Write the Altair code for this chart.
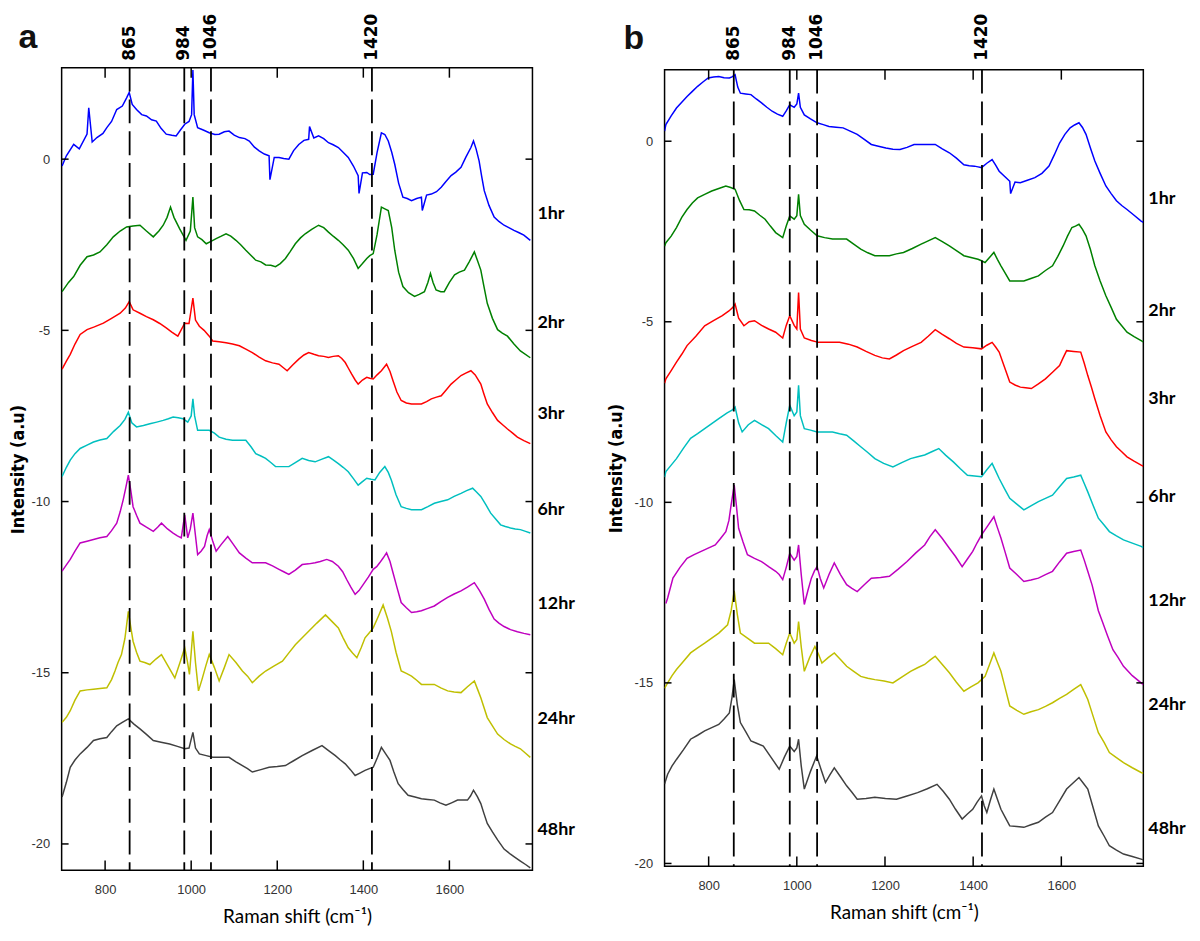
import altair as alt
import pandas as pd

SERIES = ["1hr", "2hr", "3hr", "6hr", "12hr", "24hr", "48hr"]
COLORS = ["#0000FF", "#008000", "#FF0000", "#00BFBF", "#BF00BF", "#BFBF00", "#404040"]

PEAK_POS = [857, 984, 1046, 1420]
PEAK_LABELS = ["865", "984", "1046", "1420"]

X_TICKS = [800, 1000, 1200, 1400, 1600]
Y_TICKS = [0, -5, -10, -15, -20]

A_DOMAIN_X = [699, 1793]
A_DOMAIN_Y = [-20.77, 2.67]
B_DOMAIN_X = [700, 1786]
B_DOMAIN_Y = [-20.08, 1.98]

A_LABEL_Y = [-1.60, -4.79, -7.44, -10.24, -13.0, -16.35, -19.6]
B_LABEL_Y = [-1.61, -4.69, -7.13, -9.84, -12.74, -15.60, -19.05]

# ---------------- panel a ----------------
A_1HR = [(700,-0.2),(710,0.1),(727,0.43),(740,0.3),(758,0.73),(762,1.5),(770,0.5),(781,0.63),(795,0.75),(804,0.92),(815,1.1),(827,1.45),(840,1.55),(850,1.79),(856,1.95),(863,1.6),(873,1.45),(885,1.3),(896,1.26),(908,1.15),(919,1.11),(930,0.9),(942,0.73),(955,0.7),(965,0.68),(975,0.85),(985,1.02),(995,1.1),(1001,1.3),(1004,2.6),(1007,1.3),(1015,0.92),(1028,0.85),(1042,0.77),(1055,0.72),(1065,0.73),(1077,0.8),(1088,0.82),(1100,0.7),(1112,0.63),(1125,0.6),(1135,0.53),(1147,0.35),(1158,0.24),(1170,0.15),(1181,0.1),(1183,-0.6),(1193,0.05),(1204,0.05),(1215,0.02),(1227,0.0),(1238,0.25),(1250,0.43),(1262,0.55),(1273,0.58),(1275,0.95),(1285,0.62),(1296,0.68),(1308,0.6),(1319,0.48),(1330,0.42),(1342,0.34),(1353,0.2),(1365,0.05),(1377,-0.2),(1388,-0.48),(1390,-1.0),(1398,-0.4),(1408,-0.39),(1415,-0.45),(1423,-0.44),(1432,0.2),(1442,0.77),(1450,0.72),(1458,0.53),(1466,0.2),(1473,-0.15),(1482,-0.7),(1492,-1.11),(1502,-1.15),(1512,-1.21),(1524,-1.15),(1535,-1.11),(1537,-1.5),(1547,-1.05),(1558,-1.02),(1570,-0.95),(1581,-0.82),(1592,-0.65),(1604,-0.48),(1615,-0.38),(1627,-0.24),(1638,0.05),(1650,0.34),(1656,0.53),(1662,0.3),(1669,-0.05),(1675,-0.5),(1681,-0.92),(1692,-1.35),(1704,-1.69),(1715,-1.82),(1727,-1.93),(1738,-2.0),(1750,-2.08),(1762,-2.15),(1773,-2.22),(1788,-2.37)]

A_2HR = [(700,-3.87),(715,-3.6),(727,-3.43),(742,-3.1),(758,-2.85),(773,-2.8),(788,-2.71),(804,-2.5),(819,-2.27),(835,-2.1),(850,-1.98),(865,-1.95),(881,-1.93),(896,-2.1),(912,-2.27),(925,-2.1),(935,-1.93),(944,-1.7),(952,-1.40),(960,-1.7),(973,-2.03),(988,-2.37),(998,-2.1),(1004,-1.11),(1008,-2.0),(1015,-2.27),(1025,-2.35),(1035,-2.47),(1046,-2.4),(1058,-2.32),(1070,-2.25),(1081,-2.18),(1092,-2.25),(1104,-2.37),(1115,-2.5),(1127,-2.66),(1138,-2.8),(1150,-2.95),(1162,-3.0),(1173,-3.09),(1185,-3.1),(1196,-3.14),(1207,-3.05),(1219,-2.90),(1230,-2.7),(1242,-2.47),(1254,-2.3),(1265,-2.18),(1280,-2.05),(1296,-1.93),(1308,-2.0),(1319,-2.13),(1330,-2.25),(1342,-2.37),(1353,-2.5),(1365,-2.66),(1377,-2.9),(1388,-3.19),(1398,-3.05),(1408,-2.90),(1415,-2.82),(1423,-2.76),(1432,-2.2),(1442,-1.40),(1450,-1.45),(1458,-1.50),(1466,-2.0),(1473,-2.66),(1482,-3.3),(1492,-3.72),(1505,-3.9),(1519,-4.01),(1530,-3.95),(1542,-3.87),(1550,-3.6),(1556,-3.34),(1562,-3.6),(1569,-3.82),(1580,-3.87),(1588,-3.87),(1600,-3.6),(1612,-3.38),(1623,-3.3),(1635,-3.24),(1646,-3.0),(1658,-2.71),(1665,-2.95),(1673,-3.24),(1680,-3.7),(1688,-4.21),(1700,-4.65),(1712,-4.98),(1723,-5.08),(1735,-5.17),(1750,-5.4),(1765,-5.6),(1788,-5.8)]

A_3HR = [(700,-6.13),(710,-5.9),(719,-5.70),(730,-5.4),(742,-5.12),(758,-4.98),(775,-4.9),(796,-4.79),(815,-4.65),(835,-4.5),(847,-4.35),(856,-4.16),(865,-4.4),(881,-4.5),(896,-4.6),(912,-4.69),(927,-4.8),(942,-4.93),(955,-5.05),(969,-5.17),(985,-4.79),(995,-4.8),(1004,-4.06),(1010,-4.7),(1019,-4.88),(1030,-5.0),(1042,-5.17),(1050,-5.31),(1065,-5.33),(1081,-5.36),(1096,-5.4),(1112,-5.45),(1127,-5.55),(1142,-5.65),(1158,-5.78),(1173,-5.89),(1189,-5.95),(1204,-5.99),(1215,-6.1),(1223,-6.18),(1237,-6.0),(1250,-5.84),(1262,-5.72),(1273,-5.65),(1285,-5.7),(1296,-5.74),(1308,-5.76),(1319,-5.79),(1330,-5.76),(1342,-5.74),(1350,-5.82),(1358,-5.94),(1365,-6.1),(1373,-6.28),(1381,-6.45),(1388,-6.57),(1398,-6.45),(1408,-6.37),(1415,-6.4),(1423,-6.42),(1432,-6.3),(1442,-6.18),(1454,-5.99),(1462,-6.2),(1469,-6.47),(1478,-6.8),(1488,-7.05),(1500,-7.12),(1512,-7.15),(1524,-7.15),(1535,-7.15),(1547,-7.08),(1558,-7.0),(1570,-6.95),(1581,-6.91),(1592,-6.75),(1604,-6.57),(1615,-6.45),(1627,-6.32),(1638,-6.25),(1650,-6.18),(1660,-6.3),(1673,-6.57),(1680,-6.85),(1688,-7.15),(1700,-7.4),(1712,-7.63),(1723,-7.75),(1735,-7.88),(1747,-8.0),(1758,-8.12),(1773,-8.22),(1788,-8.31)]

A_6HR = [(700,-9.27),(710,-9.0),(719,-8.79),(730,-8.6),(742,-8.45),(758,-8.35),(773,-8.26),(788,-8.2),(804,-8.16),(820,-7.95),(835,-7.78),(846,-7.6),(854,-7.39),(862,-7.7),(873,-7.82),(889,-7.78),(904,-7.73),(920,-7.68),(935,-7.63),(947,-7.58),(958,-7.53),(970,-7.55),(981,-7.58),(992,-7.68),(1000,-7.5),(1004,-7.0),(1008,-7.5),(1015,-7.92),(1028,-7.92),(1042,-7.92),(1054,-8.0),(1065,-8.12),(1081,-8.18),(1096,-8.21),(1112,-8.21),(1127,-8.21),(1139,-8.4),(1150,-8.60),(1162,-8.67),(1173,-8.74),(1185,-8.86),(1196,-8.98),(1212,-8.98),(1227,-8.98),(1242,-8.86),(1258,-8.74),(1273,-8.8),(1288,-8.84),(1304,-8.76),(1319,-8.69),(1330,-8.78),(1342,-8.89),(1353,-9.0),(1365,-9.13),(1377,-9.33),(1388,-9.52),(1398,-9.42),(1408,-9.32),(1418,-9.35),(1427,-9.37),(1438,-9.15),(1450,-8.98),(1458,-9.15),(1465,-9.37),(1476,-9.8),(1488,-10.15),(1500,-10.2),(1512,-10.24),(1524,-10.24),(1535,-10.24),(1550,-10.15),(1565,-10.05),(1580,-10.0),(1596,-9.95),(1611,-9.85),(1627,-9.76),(1640,-9.68),(1654,-9.61),(1663,-9.72),(1673,-9.85),(1685,-10.1),(1696,-10.34),(1708,-10.52),(1719,-10.68),(1730,-10.73),(1742,-10.77),(1753,-10.8),(1765,-10.82),(1777,-10.87),(1788,-10.92)]

A_12HR = [(700,-12.03),(710,-11.85),(719,-11.69),(730,-11.45),(742,-11.21),(758,-11.16),(773,-11.11),(788,-11.06),(804,-11.02),(815,-10.85),(827,-10.63),(835,-10.3),(842,-9.95),(848,-9.6),(854,-9.23),(860,-9.7),(865,-10.15),(873,-10.4),(881,-10.63),(896,-10.75),(912,-10.87),(922,-10.75),(931,-10.63),(945,-10.8),(958,-10.92),(968,-11.0),(977,-11.06),(985,-10.39),(992,-11.06),(998,-10.8),(1004,-10.34),(1010,-11.0),(1015,-11.55),(1023,-11.45),(1031,-11.31),(1037,-11.0),(1042,-10.82),(1050,-11.15),(1058,-11.45),(1070,-11.25),(1085,-11.02),(1098,-11.25),(1112,-11.50),(1127,-11.65),(1142,-11.79),(1158,-11.79),(1173,-11.79),(1189,-11.88),(1204,-11.98),(1215,-12.05),(1227,-12.13),(1242,-12.0),(1258,-11.84),(1273,-11.82),(1288,-11.79),(1300,-11.75),(1315,-11.69),(1328,-11.75),(1342,-11.89),(1352,-12.05),(1361,-12.27),(1371,-12.5),(1381,-12.71),(1390,-12.6),(1400,-12.42),(1412,-12.2),(1423,-11.98),(1431,-11.9),(1438,-11.79),(1446,-11.65),(1454,-11.50),(1462,-11.75),(1469,-12.08),(1478,-12.5),(1488,-12.95),(1500,-13.1),(1512,-13.24),(1524,-13.22),(1535,-13.19),(1550,-13.12),(1565,-13.05),(1580,-12.92),(1596,-12.80),(1611,-12.7),(1627,-12.61),(1642,-12.5),(1658,-12.37),(1670,-12.6),(1681,-12.85),(1692,-13.15),(1704,-13.43),(1715,-13.55),(1727,-13.65),(1742,-13.74),(1758,-13.8),(1773,-13.85),(1788,-13.89)]

A_24HR = [(700,-16.45),(710,-16.3),(719,-16.11),(730,-15.8),(742,-15.53),(758,-15.5),(773,-15.48),(788,-15.46),(804,-15.44),(815,-15.2),(823,-14.95),(830,-14.7),(838,-14.47),(846,-14.0),(854,-13.21),(860,-13.7),(865,-14.08),(873,-14.4),(881,-14.66),(892,-14.7),(904,-14.76),(918,-14.6),(931,-14.47),(946,-14.8),(962,-15.15),(974,-14.7),(985,-14.27),(991,-14.65),(996,-15.05),(1004,-13.79),(1010,-14.7),(1017,-15.53),(1025,-15.2),(1034,-14.8),(1042,-14.47),(1054,-14.85),(1065,-15.24),(1077,-14.85),(1088,-14.47),(1104,-14.7),(1119,-14.95),(1131,-15.1),(1142,-15.29),(1158,-15.1),(1173,-14.95),(1193,-14.8),(1212,-14.66),(1227,-14.42),(1242,-14.18),(1258,-13.98),(1273,-13.79),(1292,-13.55),(1312,-13.31),(1327,-13.5),(1342,-13.69),(1353,-13.98),(1365,-14.27),(1375,-14.42),(1385,-14.56),(1395,-14.27),(1404,-13.98),(1414,-13.83),(1423,-13.69),(1435,-13.35),(1446,-13.02),(1456,-13.4),(1465,-13.79),(1476,-14.4),(1488,-14.95),(1500,-15.02),(1512,-15.10),(1524,-15.22),(1535,-15.34),(1550,-15.34),(1565,-15.34),(1580,-15.44),(1596,-15.53),(1611,-15.56),(1627,-15.58),(1642,-15.41),(1658,-15.24),(1666,-15.5),(1673,-15.73),(1680,-16.0),(1688,-16.31),(1700,-16.55),(1712,-16.79),(1727,-16.95),(1742,-17.08),(1753,-17.15),(1765,-17.22),(1777,-17.35),(1788,-17.47)]

A_48HR = [(700,-18.63),(710,-18.2),(719,-17.76),(730,-17.55),(742,-17.37),(758,-17.18),(773,-16.98),(788,-16.93),(804,-16.89),(815,-16.72),(827,-16.55),(840,-16.45),(854,-16.35),(867,-16.5),(881,-16.64),(896,-16.8),(912,-16.98),(930,-17.03),(950,-17.08),(968,-17.15),(985,-17.22),(995,-17.2),(1004,-16.74),(1010,-17.2),(1019,-17.37),(1035,-17.42),(1050,-17.47),(1069,-17.47),(1088,-17.47),(1104,-17.6),(1119,-17.71),(1131,-17.8),(1142,-17.90),(1162,-17.83),(1181,-17.76),(1200,-17.74),(1219,-17.71),(1238,-17.57),(1258,-17.42),(1281,-17.27),(1304,-17.13),(1320,-17.28),(1335,-17.42),(1346,-17.54),(1358,-17.66),(1370,-17.83),(1381,-18.0),(1392,-17.93),(1404,-17.85),(1414,-17.8),(1423,-17.76),(1433,-17.47),(1442,-17.18),(1452,-17.37),(1462,-17.56),(1471,-17.9),(1481,-18.24),(1492,-18.41),(1504,-18.58),(1520,-18.63),(1535,-18.68),(1550,-18.7),(1565,-18.72),(1578,-18.8),(1592,-18.87),(1605,-18.8),(1619,-18.72),(1630,-18.72),(1642,-18.72),(1649,-18.6),(1656,-18.43),(1665,-18.62),(1673,-18.82),(1680,-19.1),(1688,-19.40),(1700,-19.65),(1712,-19.88),(1727,-20.15),(1742,-20.3),(1750,-20.37),(1765,-20.5),(1777,-20.6),(1788,-20.7)]

# ---------------- panel b ----------------
B_1HR = [(700,0.28),(703,0.46),(715,0.70),(727,0.92),(739,1.08),(751,1.24),(763,1.38),(775,1.52),(787,1.64),(799,1.75),(811,1.78),(823,1.79),(835,1.76),(847,1.75),(853,1.78),(860,1.84),(866,1.50),(872,1.33),(884,1.31),(896,1.29),(908,1.17),(920,1.06),(932,0.94),(944,0.83),(956,0.75),(968,0.69),(976,0.84),(984,1.01),(994,0.94),(1000,1.03),(1004,1.33),(1008,0.94),(1017,0.73),(1031,0.62),(1046,0.51),(1060,0.46),(1073,0.41),(1089,0.39),(1105,0.37),(1121,0.28),(1137,0.19),(1153,0.05),(1169,-0.09),(1185,-0.14),(1202,-0.19),(1218,-0.22),(1234,-0.23),(1250,-0.17),(1266,-0.09),(1290,-0.09),(1314,-0.09),(1330,-0.21),(1346,-0.32),(1362,-0.47),(1379,-0.65),(1391,-0.68),(1403,-0.69),(1411,-0.71),(1419,-0.73),(1431,-0.61),(1443,-0.51),(1451,-0.66),(1459,-0.83),(1471,-0.97),(1483,-1.11),(1485,-1.45),(1495,-1.13),(1507,-1.15),(1523,-1.08),(1540,-1.01),(1556,-0.89),(1572,-0.69),(1584,-0.38),(1596,-0.05),(1608,0.19),(1620,0.37),(1630,0.45),(1640,0.51),(1648,0.38),(1656,0.19),(1666,-0.19),(1676,-0.55),(1688,-0.89),(1701,-1.24),(1713,-1.45),(1725,-1.65),(1737,-1.78),(1749,-1.89),(1765,-2.05),(1781,-2.21),(1786,-2.25)]

B_2HR = [(700,-2.91),(703,-2.81),(715,-2.63),(727,-2.39),(739,-2.11),(751,-1.89),(763,-1.71),(775,-1.57),(791,-1.47),(807,-1.38),(823,-1.31),(839,-1.24),(850,-1.28),(860,-1.33),(870,-1.64),(880,-1.89),(892,-1.90),(904,-1.93),(916,-2.05),(928,-2.16),(940,-2.35),(952,-2.53),(960,-2.60),(968,-2.67),(976,-2.35),(984,-2.07),(994,-2.16),(1000,-2.06),(1004,-1.47),(1008,-2.06),(1017,-2.30),(1031,-2.46),(1046,-2.62),(1063,-2.67),(1081,-2.71),(1097,-2.71),(1113,-2.71),(1129,-2.85),(1145,-2.99),(1161,-3.09),(1177,-3.17),(1194,-3.17),(1210,-3.17),(1226,-3.12),(1242,-3.08),(1262,-2.97),(1282,-2.85),(1298,-2.76),(1314,-2.67),(1330,-2.78),(1346,-2.90),(1362,-3.03),(1379,-3.17),(1395,-3.22),(1411,-3.27),(1419,-3.31),(1427,-3.36),(1437,-3.22),(1447,-3.08),(1455,-3.27),(1463,-3.45),(1473,-3.66),(1483,-3.87),(1499,-3.87),(1515,-3.87),(1531,-3.80),(1548,-3.73),(1564,-3.58),(1580,-3.45),(1592,-3.19),(1604,-2.90),(1614,-2.63),(1624,-2.39),(1632,-2.35),(1640,-2.30),(1648,-2.44),(1656,-2.62),(1666,-3.00),(1676,-3.45),(1688,-3.87),(1701,-4.28),(1713,-4.60),(1725,-4.93),(1737,-5.11),(1749,-5.29),(1765,-5.41),(1781,-5.52),(1786,-5.56)]

B_3HR = [(700,-6.7),(703,-6.58),(715,-6.35),(727,-6.12),(739,-5.9),(751,-5.66),(771,-5.4),(791,-5.11),(811,-4.97),(831,-4.83),(846,-4.7),(855,-4.6),(860,-4.51),(868,-4.9),(880,-5.11),(892,-5.0),(904,-4.97),(920,-5.1),(936,-5.2),(952,-5.29),(968,-5.45),(976,-5.1),(984,-4.83),(994,-5.1),(1000,-5.2),(1004,-4.19),(1008,-5.2),(1017,-5.45),(1033,-5.52),(1049,-5.57),(1073,-5.57),(1097,-5.57),(1117,-5.62),(1137,-5.70),(1157,-5.82),(1177,-5.93),(1194,-6.0),(1210,-6.03),(1226,-5.92),(1242,-5.80),(1262,-5.68),(1282,-5.57),(1298,-5.4),(1314,-5.22),(1330,-5.35),(1346,-5.47),(1362,-5.6),(1379,-5.70),(1399,-5.72),(1419,-5.75),(1431,-5.65),(1443,-5.57),(1451,-5.7),(1459,-5.84),(1471,-6.25),(1483,-6.67),(1495,-6.75),(1507,-6.81),(1519,-6.83),(1532,-6.85),(1548,-6.72),(1564,-6.58),(1580,-6.4),(1596,-6.21),(1604,-6.0),(1612,-5.80),(1628,-5.82),(1644,-5.84),(1652,-6.15),(1660,-6.49),(1668,-6.8),(1676,-7.13),(1688,-7.6),(1701,-8.05),(1713,-8.27),(1725,-8.46),(1737,-8.6),(1749,-8.74),(1765,-8.86),(1781,-8.97),(1786,-9.0)]

B_6HR = [(700,-9.3),(703,-9.15),(715,-8.97),(727,-8.79),(743,-8.5),(759,-8.23),(775,-8.1),(791,-7.96),(807,-7.82),(823,-7.68),(842,-7.52),(853,-7.45),(860,-7.36),(868,-7.8),(876,-8.05),(890,-7.85),(904,-7.73),(920,-7.85),(936,-7.96),(952,-8.15),(968,-8.33),(976,-7.8),(984,-7.31),(994,-7.6),(1000,-7.5),(1004,-6.76),(1008,-7.6),(1017,-7.96),(1031,-8.0),(1046,-8.05),(1063,-8.05),(1081,-8.05),(1097,-8.1),(1113,-8.14),(1129,-8.3),(1145,-8.46),(1161,-8.62),(1177,-8.79),(1197,-8.92),(1218,-9.02),(1238,-8.9),(1258,-8.79),(1274,-8.74),(1290,-8.69),(1306,-8.6),(1322,-8.51),(1338,-8.7),(1355,-8.88),(1371,-9.07),(1387,-9.25),(1403,-9.27),(1419,-9.29),(1431,-9.1),(1443,-8.92),(1451,-9.13),(1459,-9.34),(1471,-9.62),(1483,-9.89),(1499,-10.05),(1515,-10.21),(1531,-10.1),(1548,-9.98),(1564,-9.89),(1580,-9.80),(1596,-9.57),(1612,-9.34),(1628,-9.3),(1644,-9.25),(1652,-9.48),(1660,-9.71),(1672,-10.08),(1684,-10.44),(1697,-10.63),(1709,-10.81),(1725,-10.93),(1741,-11.04),(1761,-11.13),(1781,-11.22),(1786,-11.25)]

B_12HR = [(703,-12.8),(707,-12.65),(719,-12.10),(735,-11.8),(751,-11.55),(767,-11.45),(783,-11.36),(799,-11.27),(815,-11.18),(827,-11.0),(839,-10.81),(846,-10.5),(851,-10.07),(858,-9.52),(863,-10.1),(868,-10.72),(878,-11.1),(888,-11.45),(904,-11.55),(920,-11.64),(936,-11.78),(952,-11.91),(960,-12.0),(968,-12.14),(976,-11.8),(984,-11.41),(994,-11.6),(1000,-11.5),(1004,-11.18),(1010,-12.0),(1017,-12.83),(1025,-12.45),(1033,-12.10),(1040,-11.9),(1046,-11.78),(1053,-12.1),(1061,-12.37),(1073,-12.0),(1085,-11.68),(1099,-12.0),(1113,-12.28),(1125,-12.38),(1137,-12.47),(1153,-12.28),(1169,-12.10),(1190,-12.08),(1210,-12.05),(1230,-11.85),(1250,-11.64),(1270,-11.4),(1290,-11.18),(1302,-10.95),(1314,-10.76),(1330,-11.0),(1346,-11.27),(1360,-11.5),(1375,-11.78),(1387,-11.57),(1399,-11.36),(1409,-11.12),(1419,-10.90),(1433,-10.65),(1447,-10.40),(1455,-10.7),(1463,-10.99),(1473,-11.4),(1483,-11.82),(1499,-12.0),(1515,-12.19),(1531,-12.15),(1548,-12.10),(1564,-12.0),(1580,-11.91),(1596,-11.65),(1612,-11.41),(1628,-11.36),(1644,-11.32),(1652,-11.6),(1660,-11.91),(1670,-12.3),(1684,-13.0),(1693,-13.3),(1705,-13.7),(1717,-14.08),(1729,-14.3),(1741,-14.54),(1761,-14.8),(1781,-15.0),(1786,-15.05)]

B_24HR = [(700,-15.15),(707,-15.0),(717,-14.8),(727,-14.63),(743,-14.4),(759,-14.17),(775,-14.03),(791,-13.90),(807,-13.76),(823,-13.62),(843,-13.39),(851,-13.0),(858,-12.45),(865,-13.1),(872,-13.62),(888,-13.76),(904,-13.90),(920,-13.9),(936,-13.90),(952,-14.05),(968,-14.22),(976,-13.9),(984,-13.62),(994,-13.9),(1000,-13.8),(1004,-13.30),(1010,-14.0),(1017,-14.68),(1029,-14.3),(1041,-13.99),(1049,-14.2),(1057,-14.45),(1071,-14.3),(1085,-14.17),(1099,-14.35),(1113,-14.54),(1129,-14.68),(1145,-14.82),(1161,-14.87),(1177,-14.91),(1198,-14.95),(1218,-15.0),(1238,-14.84),(1258,-14.68),(1274,-14.58),(1290,-14.49),(1302,-14.37),(1314,-14.26),(1330,-14.49),(1346,-14.72),(1362,-14.98),(1379,-15.23),(1395,-15.11),(1411,-15.0),(1427,-14.82),(1437,-14.5),(1447,-14.17),(1455,-14.43),(1463,-14.68),(1473,-15.16),(1483,-15.64),(1499,-15.76),(1515,-15.87),(1531,-15.8),(1548,-15.74),(1564,-15.65),(1580,-15.55),(1596,-15.43),(1612,-15.32),(1628,-15.18),(1644,-15.05),(1652,-15.25),(1660,-15.46),(1672,-15.92),(1684,-16.38),(1697,-16.65),(1709,-16.93),(1725,-17.07),(1741,-17.21),(1761,-17.35),(1781,-17.48),(1786,-17.5)]

B_48HR = [(700,-17.8),(707,-17.53),(717,-17.3),(727,-17.12),(743,-16.85),(759,-16.56),(775,-16.45),(791,-16.33),(807,-16.24),(823,-16.15),(835,-16.0),(847,-15.83),(853,-15.4),(858,-14.91),(865,-15.6),(872,-16.10),(884,-16.35),(896,-16.61),(910,-16.68),(924,-16.75),(942,-17.07),(960,-17.39),(972,-17.05),(984,-16.75),(994,-16.9),(1000,-16.8),(1004,-16.56),(1010,-17.3),(1017,-17.94),(1031,-17.45),(1045,-17.02),(1055,-17.4),(1065,-17.76),(1075,-17.55),(1085,-17.35),(1099,-17.6),(1113,-17.85),(1125,-18.03),(1137,-18.22),(1157,-18.2),(1177,-18.17),(1201,-18.2),(1226,-18.22),(1250,-18.13),(1274,-18.04),(1296,-17.93),(1318,-17.81),(1332,-18.0),(1346,-18.22),(1360,-18.5),(1375,-18.77),(1387,-18.63),(1399,-18.50),(1409,-18.3),(1419,-18.13),(1425,-18.4),(1431,-18.59),(1439,-18.25),(1447,-17.94),(1455,-18.22),(1463,-18.50),(1473,-18.73),(1483,-18.96),(1499,-18.98),(1515,-19.00),(1531,-18.93),(1548,-18.86),(1564,-18.72),(1580,-18.59),(1596,-18.27),(1612,-17.94),(1626,-17.78),(1640,-17.62),(1650,-17.78),(1660,-17.94),(1672,-18.45),(1684,-18.96),(1697,-19.24),(1709,-19.51),(1725,-19.63),(1741,-19.74),(1761,-19.81),(1781,-19.88),(1786,-19.9)]

A_SPECTRA = [A_1HR, A_2HR, A_3HR, A_6HR, A_12HR, A_24HR, A_48HR]
B_SPECTRA = [B_1HR, B_2HR, B_3HR, B_6HR, B_12HR, B_24HR, B_48HR]

TICK_FONT = "Liberation Sans"
YTITLE_FONT = "DejaVu Sans Condensed, Liberation Sans Narrow, sans-serif"
X_TICK_LEN = 10
Y_TICK_LEN = 7


def build_df(spectra):
    rows = []
    for name, pts in zip(SERIES, spectra):
        for x, y in pts:
            rows.append({"series": name, "x": x, "y": y})
    return pd.DataFrame(rows)


def make_panel(spectra, xdom, ydom, width, height, label_y, letter, lx, ly, peak_dy, ytitle_pad):
    df = build_df(spectra)
    xs = alt.Scale(domain=xdom, nice=False, zero=False)
    ys = alt.Scale(domain=ydom, nice=False, zero=False)

    bottom_axis = alt.Axis(orient="bottom", values=X_TICKS, format="d", ticks=False, domain=False,
                           grid=False, labelPadding=13, labelFont=TICK_FONT, labelFontSize=13,
                           labelColor="#333333", title="Raman shift (cm⁻¹)", titleFont="Lato",
                           titleFontSize=19, titleFontWeight="normal", titleColor="black",
                           titlePadding=12)
    left_axis = alt.Axis(orient="left", values=Y_TICKS, ticks=False, domain=False, grid=False,
                         labelPadding=12, labelExpr="toString(datum.value)", labelFont=TICK_FONT,
                         labelFontSize=13, labelColor="#333333", title="Intensity (a.u)",
                         titleFont=YTITLE_FONT, titleFontSize=18, titleFontWeight="bold",
                         titleColor="black", titlePadding=ytitle_pad)

    lines = alt.Chart(df).mark_line(strokeWidth=1.5, clip=True).encode(
        x=alt.X("x:Q", scale=xs, axis=bottom_axis),
        y=alt.Y("y:Q", scale=ys, axis=left_axis),
        color=alt.Color("series:N", scale=alt.Scale(domain=SERIES, range=COLORS), legend=None),
        detail="series:N",
    )

    # inward tick marks on all four sides, positioned by the scales
    xt = pd.DataFrame({"v": X_TICKS})
    yt = pd.DataFrame({"v": Y_TICKS})
    tick_style = dict(color="black", strokeWidth=1.5)
    top_ticks = alt.Chart(xt).mark_rule(**tick_style).encode(
        x=alt.X("v:Q", scale=xs, axis=None), y=alt.value(0), y2=alt.value(X_TICK_LEN))
    bottom_ticks = alt.Chart(xt).mark_rule(**tick_style).encode(
        x=alt.X("v:Q", scale=xs, axis=None), y=alt.value(height - X_TICK_LEN), y2=alt.value(height))
    left_ticks = alt.Chart(yt).mark_rule(**tick_style).encode(
        y=alt.Y("v:Q", scale=ys, axis=None), x=alt.value(0), x2=alt.value(Y_TICK_LEN))
    right_ticks = alt.Chart(yt).mark_rule(**tick_style).encode(
        y=alt.Y("v:Q", scale=ys, axis=None), x=alt.value(width - Y_TICK_LEN), x2=alt.value(width))

    peaks_df = pd.DataFrame({"pos": PEAK_POS, "label": PEAK_LABELS})
    rules = alt.Chart(peaks_df).mark_rule(color="black", strokeWidth=1.8, strokeDash=[24, 8]).encode(
        x=alt.X("pos:Q", scale=xs, axis=None)
    )
    peak_text = alt.Chart(peaks_df).mark_text(
        angle=270, align="left", baseline="middle", font="DejaVu Sans", fontSize=17,
        fontWeight="bold", color="black"
    ).encode(
        x=alt.X("pos:Q", scale=xs, axis=None),
        y=alt.value(peak_dy),
        text="label:N",
    )

    lab_df = pd.DataFrame({"series": SERIES, "y": label_y})
    hr_labels = alt.Chart(lab_df).mark_text(
        align="left", baseline="middle", font="Lato", fontSize=18, fontWeight="bold", color="black"
    ).encode(
        x=alt.value(width + 5),
        y=alt.Y("y:Q", scale=ys, axis=None),
        text="series:N",
    )

    let_df = pd.DataFrame({"t": [letter]})
    letter_mark = alt.Chart(let_df).mark_text(
        font="Liberation Sans", fontSize=34, fontWeight="bold", color="#111111",
        align="center", baseline="alphabetic"
    ).encode(x=alt.value(lx), y=alt.value(ly), text="t:N")

    return alt.layer(lines, rules, top_ticks, bottom_ticks, left_ticks, right_ticks,
                     peak_text, hr_labels, letter_mark).resolve_axis(
        x="independent", y="independent"
    ).properties(width=width, height=height)


panel_a = make_panel(A_SPECTRA, A_DOMAIN_X, A_DOMAIN_Y, 474, 808, A_LABEL_Y, "a", -34, -20, -7, 4)
panel_b = make_panel(B_SPECTRA, B_DOMAIN_X, B_DOMAIN_Y, 482, 802, B_LABEL_Y, "b", -31, -21, -9, 9)

spacer = alt.Chart(pd.DataFrame({"v": [0]})).mark_point(opacity=0).encode(
    x=alt.value(0), y=alt.value(0)
).properties(width=482, height=2, view=alt.ViewBackground(strokeWidth=0, strokeOpacity=0))

col_b = alt.vconcat(spacer, panel_b, spacing=0, bounds="flush")

chart = alt.hconcat(panel_a, col_b, spacing=133, bounds="flush").properties(
    padding={"left": 0, "top": 1, "right": 5, "bottom": 5}
).configure_view(stroke="black", strokeWidth=1.5)

chart.save("out.html", embed_options={"renderer": "svg", "actions": False})
